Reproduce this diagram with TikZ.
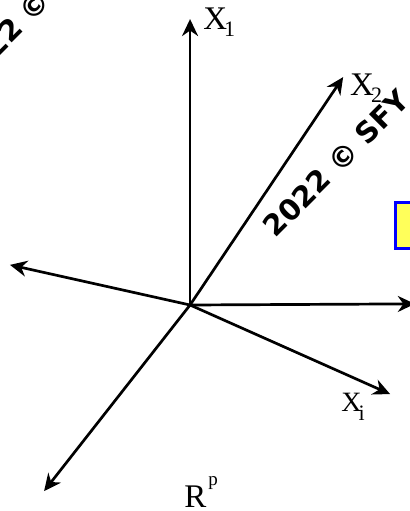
\documentclass[tikz,border=0pt]{standalone}
\usepackage{fontspec}
\setmainfont{Liberation Serif}
\newfontfamily\wmfont{DejaVu Sans}
\usetikzlibrary{arrows.meta}
\definecolor{boxyellow}{RGB}{255,255,90}
\definecolor{boxblue}{RGB}{0,0,255}
\newcommand{\xsub}[2][7pt]{X\kern-3pt\raisebox{-#1}{\fontsize{22}{24}\selectfont #2}}

\begin{document}
\begin{tikzpicture}[>={Stealth[length=17pt,width=16pt]}, line width=2.7pt,
	lab/.style={font=\fontsize{33}{36}\selectfont, inner sep=0pt, anchor=base west},
	wm/.style={font=\wmfont\fontsize{29}{31}\selectfont\bfseries, inner sep=0pt, anchor=base west, rotate=45}]
	\useasboundingbox (-6.68,-7.24) rectangle (7.73,10.72);
	\coordinate (O) at (0,0);
	\coordinate (x1) at (0,10.05);
	\coordinate (x2) at (5.38,8.01);
	\coordinate (xi) at (7.03,-3.13);
	\coordinate (left) at (-6.33,1.41);
	\coordinate (right) at (7.9,0.04);
	\coordinate (down) at (-5.13,-6.54);
	\draw[->] (O) -- (x1);
	\draw[->] (O) -- (x2);
	\draw[->] (O) -- (xi);
	\draw[->] (O) -- (left);
	\draw[->] (O) -- (down);
	\node[lab] (lx1) at (0.42,9.7) {\xsub{1}};
	\node[lab] (lx2) at (5.58,7.38) {\xsub{2}};
	\node[lab, font=\fontsize{28}{30}\selectfont] (lxi) at (5.27,-3.76) {\xsub[9pt]{i}};
	\node[lab] (rp) at (-0.25,-7.12) {R\kern2pt\raisebox{22pt}{\fontsize{19}{22}\selectfont p}};
	\begin{scope}
		\clip (-6.68,-7.24) rectangle (7.73,10.72);
		\draw[->] (O) -- (right);
		\draw[boxblue, fill=boxyellow, line width=3pt] (7.21,3.62) rectangle (8.5,2.0);
		\node[wm] (wm1) at (2.98,2.3) {2022 © SFY};
		\node[wm] (wm2) at (-7.85,7.6) {2022 © SFY};
	\end{scope}
\end{tikzpicture}
\end{document}
